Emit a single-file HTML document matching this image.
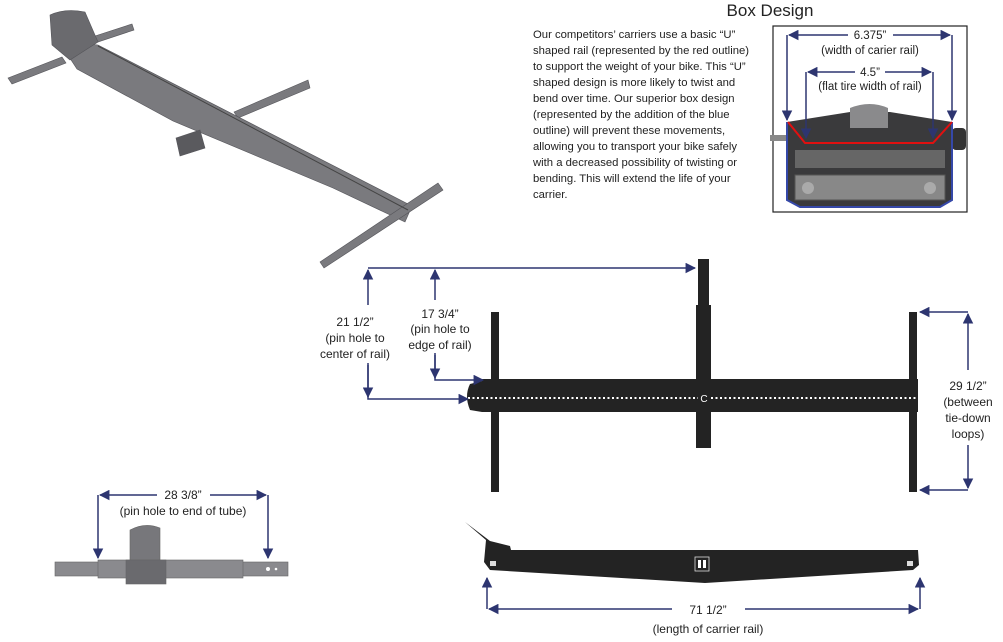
<!DOCTYPE html>
<html><head><meta charset="utf-8"><style>
body{margin:0;background:#fff;width:1003px;height:642px;overflow:hidden;font-family:"Liberation Sans",sans-serif}
svg{position:absolute;left:0;top:0}
</style></head><body>
<svg width="1003" height="642" viewBox="0 0 1003 642" xmlns="http://www.w3.org/2000/svg" font-family="Liberation Sans, sans-serif">
<defs>
<marker id="a" viewBox="0 0 10 10" refX="9" refY="5" markerWidth="7" markerHeight="7" orient="auto-start-reverse"><path d="M0,0L10,5L0,10z" fill="#2d3570"/></marker>
</defs>
<!-- isometric rack -->
<g fill="#7a7a7e" stroke="#55555a" stroke-width="0.6">
<polygon points="8,78 62,57 66,63 12,84"/>
<polygon points="95,36 132,24 134,30 98,42"/>
<polygon points="234,112 308,80 310,88 238,118"/>
<polygon points="58,40 98,45 412,206 405,222 333,188 173,121 77,69"/>
<polygon points="320,262 438,183 443,190 324,268"/>
<polygon points="176,138 200,130 205,148 180,156" fill="#5a5a5e"/>
<path d="M50,15 Q65,8 85,12 L98,42 L70,60 L52,45z" fill="#6a6a6e"/>
</g>
<line x1="98" y1="46" x2="408" y2="210" stroke="#444" stroke-width="1"/>
<!-- box design text -->
<text x="770" y="16" font-size="17" text-anchor="middle" fill="#222">Box Design</text>
<g font-size="11.3" fill="#222">
<text x="533" y="38">Our competitors’ carriers use a basic “U”</text>
<text x="533" y="54">shaped rail (represented by the red outline)</text>
<text x="533" y="70">to support the weight of your bike. This “U”</text>
<text x="533" y="86">shaped design is more likely to twist and</text>
<text x="533" y="102">bend over time. Our superior box design</text>
<text x="533" y="118">(represented by the addition of the blue</text>
<text x="533" y="134">outline) will prevent these movements,</text>
<text x="533" y="150">allowing you to transport your bike safely</text>
<text x="533" y="166">with a decreased possibility of twisting or</text>
<text x="533" y="182">bending. This will extend the life of your</text>
<text x="533" y="198">carrier.</text>
</g>
<!-- box image -->
<rect x="773" y="26" width="194" height="186" fill="#fff" stroke="#222" stroke-width="1.2"/>
<rect x="770" y="135" width="18" height="6" fill="#888"/>
<rect x="952" y="128" width="14" height="22" rx="4" fill="#333"/>
<path d="M787,122 L850,112 L890,112 L952,122 L952,200 L940,207 L800,207 L787,200z" fill="#3a3a3c"/>
<path d="M850,128 L850,108 Q870,100 888,108 L888,128z" fill="#8a8a8c"/>
<rect x="795" y="150" width="150" height="18" fill="#666"/>
<rect x="795" y="175" width="150" height="25" fill="#888" stroke="#555"/>
<circle cx="808" cy="188" r="6" fill="#aaa"/><circle cx="930" cy="188" r="6" fill="#aaa"/>
<path d="M787,122 L787,200 L800,207 L940,207 L952,200 L952,122" fill="none" stroke="#3548a8" stroke-width="2"/>
<path d="M788,122 L805,143 L933,143 L952,122" fill="none" stroke="#e01010" stroke-width="2"/>
<g stroke="#2d3570" stroke-width="1.5" fill="none">
<line x1="789" y1="35" x2="848" y2="35" marker-start="url(#a)"/><line x1="893" y1="35" x2="950" y2="35" marker-end="url(#a)"/>
<line x1="787" y1="35" x2="787" y2="120" marker-end="url(#a)"/><line x1="952" y1="35" x2="952" y2="120" marker-end="url(#a)"/>
<line x1="808" y1="72" x2="855" y2="72" marker-start="url(#a)"/><line x1="885" y1="72" x2="931" y2="72" marker-end="url(#a)"/>
<line x1="806" y1="72" x2="806" y2="138" marker-end="url(#a)"/><line x1="933" y1="72" x2="933" y2="138" marker-end="url(#a)"/>
</g>
<g font-size="11.5" fill="#222" text-anchor="middle">
<text x="870" y="39">6.375”</text><text x="870" y="54">(width of carier rail)</text>
<text x="870" y="76">4.5”</text><text x="870" y="90">(flat tire width of rail)</text>
</g>
<!-- top view -->
<g fill="#232323">
<rect x="698" y="259" width="11" height="50"/>
<rect x="696" y="305" width="15" height="143"/>
<rect x="491" y="312" width="8" height="180"/>
<rect x="909" y="312" width="8" height="180"/>
<rect x="482" y="379" width="436" height="33"/>
<path d="M482,381 L470,384 Q464,396 470,410 L482,412z"/>
</g>
<line x1="468" y1="398" x2="916" y2="398" stroke="#fff" stroke-width="2" stroke-dasharray="2,2.5"/>
<rect x="698" y="392" width="12" height="12" fill="#232323"/>
<text x="704" y="402" font-size="10" fill="#fff" text-anchor="middle">C</text>
<g stroke="#2d3570" stroke-width="1.5" fill="none">
<line x1="368" y1="268" x2="695" y2="268" marker-end="url(#a)"/>
<line x1="368" y1="305" x2="368" y2="270" marker-end="url(#a)"/>
<polyline points="368,363 368,399 468,399" marker-end="url(#a)"/>
<line x1="368" y1="365" x2="368" y2="397" marker-end="url(#a)"/>
<line x1="435" y1="300" x2="435" y2="270" marker-end="url(#a)"/>
<polyline points="435,353 435,380 483,380" marker-end="url(#a)"/>
<line x1="435" y1="355" x2="435" y2="378" marker-end="url(#a)"/>
<line x1="968" y1="312" x2="920" y2="312" marker-end="url(#a)"/>
<line x1="968" y1="370" x2="968" y2="314" marker-end="url(#a)"/>
<line x1="968" y1="445" x2="968" y2="488" marker-end="url(#a)"/>
<line x1="968" y1="490" x2="920" y2="490" marker-end="url(#a)"/>
</g>
<g font-size="12" fill="#222" text-anchor="middle">
<text x="355" y="326">21 1/2”</text><text x="355" y="342">(pin hole to</text><text x="355" y="358">center of rail)</text>
<text x="440" y="318">17 3/4”</text><text x="440" y="333">(pin hole to</text><text x="440" y="349">edge of rail)</text>
<text x="968" y="390">29 1/2”</text><text x="968" y="406">(between</text><text x="968" y="422">tie-down</text><text x="968" y="438">loops)</text>
</g>
<!-- bottom left side view -->
<g fill="#8a8a8e" stroke="#666" stroke-width="0.6">
<rect x="55" y="562" width="233" height="14"/>
<rect x="98" y="560" width="145" height="18"/>
<path d="M130,560 L130,530 Q145,522 160,528 L160,560z" fill="#77777b"/>
<rect x="126" y="560" width="40" height="24" fill="#6a6a6e"/>
</g>
<circle cx="268" cy="569" r="2" fill="#fff"/><circle cx="276" cy="569" r="1.3" fill="#fff"/>
<g stroke="#2d3570" stroke-width="1.5" fill="none">
<line x1="100" y1="495" x2="157" y2="495" marker-start="url(#a)"/>
<line x1="210" y1="495" x2="266" y2="495" marker-end="url(#a)"/>
<line x1="98" y1="495" x2="98" y2="558" marker-end="url(#a)"/>
<line x1="268" y1="495" x2="268" y2="558" marker-end="url(#a)"/>
</g>
<g font-size="12" fill="#222" text-anchor="middle">
<text x="183" y="499">28 3/8”</text><text x="183" y="515">(pin hole to end of tube)</text>
</g>
<!-- bottom side rail -->
<path d="M465,522 L490,541 L510,546 L511,550 L918,550 L919,565 L913,570 L705,583 L490,570 L484,562 L486,540z" fill="#232323"/>
<rect x="695" y="557" width="14" height="14" fill="#232323" stroke="#ddd" stroke-width="0.8"/>
<rect x="698" y="560" width="3" height="8" fill="#fff"/><rect x="703" y="560" width="3" height="8" fill="#fff"/>
<rect x="490" y="561" width="6" height="5" fill="#ddd"/><rect x="907" y="561" width="6" height="5" fill="#ddd"/>
<g stroke="#2d3570" stroke-width="1.5" fill="none">
<line x1="487" y1="609" x2="487" y2="578" marker-end="url(#a)"/>
<line x1="920" y1="609" x2="920" y2="578" marker-end="url(#a)"/>
<line x1="489" y1="609" x2="672" y2="609" marker-start="url(#a)"/>
<line x1="745" y1="609" x2="918" y2="609" marker-end="url(#a)"/>
</g>
<g font-size="12" fill="#222" text-anchor="middle">
<text x="708" y="614">71 1/2”</text><text x="708" y="633">(length of carrier rail)</text>
</g>
</svg>
</body></html>
